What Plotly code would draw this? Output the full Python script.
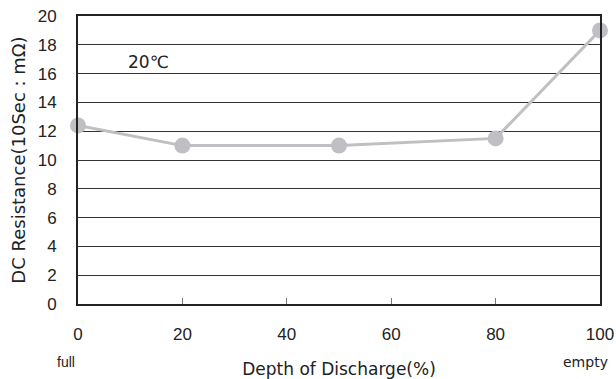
import plotly.graph_objects as go

dod = [0, 20, 50, 80, 100]
resistance = [12.4, 11.0, 11.0, 11.5, 19.0]
x_ticks = [0, 20, 40, 60, 80, 100]
y_ticks = [0, 2, 4, 6, 8, 10, 12, 14, 16, 18, 20]

fig = go.Figure()
fig.add_trace(go.Scatter(
    x=dod, y=resistance, mode="lines+markers",
    line=dict(color="#c0c0c4", width=3),
    marker=dict(color="#c0c0c4", size=16),
    showlegend=False, cliponaxis=False, hoverinfo="skip",
))

fig.add_annotation(x=13.5, y=16.8, text="20℃", showarrow=False,
                   xanchor="center", yanchor="middle",
                   font=dict(family="DejaVu Sans", size=17, color="#222"))
fig.add_annotation(x=0, y=0, xref="x", yref="paper", text="full", showarrow=False,
                   xanchor="center", yanchor="middle",
                   yshift=-58, xshift=-12, font=dict(family="Liberation Sans", size=14, color="#222"))
fig.add_annotation(x=100, y=0, xref="x", yref="paper", text="empty", showarrow=False,
                   xanchor="center", yanchor="middle",
                   yshift=-58, xshift=-15, font=dict(family="DejaVu Sans", size=14, color="#222"))

fig.update_layout(
    width=616, height=379,
    margin=dict(l=78, r=16, t=16, b=75),
    paper_bgcolor="white", plot_bgcolor="white",
    font=dict(family="Liberation Sans", color="#222"),
    xaxis=dict(range=[0, 100], tickvals=x_ticks, showgrid=False, automargin=False,
               ticks="inside", ticklen=6, tickcolor="#777", tickwidth=1,
               showline=True, linecolor="#222", linewidth=2, mirror=True,
               tickfont=dict(size=17), ticklabelstandoff=14,
               title=dict(text="Depth of Discharge(%)", standoff=20,
                          font=dict(family="DejaVu Sans", size=17))),
    yaxis=dict(range=[0, 20], tickvals=y_ticks, showgrid=True, automargin=False,
               gridcolor="#333", gridwidth=1, ticks="",
               showline=True, linecolor="#222", linewidth=2, mirror=True,
               tickfont=dict(size=17), zeroline=False, ticklabelstandoff=16,
               title=dict(text="DC Resistance(10Sec : mΩ)", standoff=7,
                          font=dict(family="DejaVu Sans", size=18))),
)

fig.write_html("out.html", config={"displayModeBar": False},
               post_script="document.body.style.margin='0';document.body.style.overflow='hidden';")
